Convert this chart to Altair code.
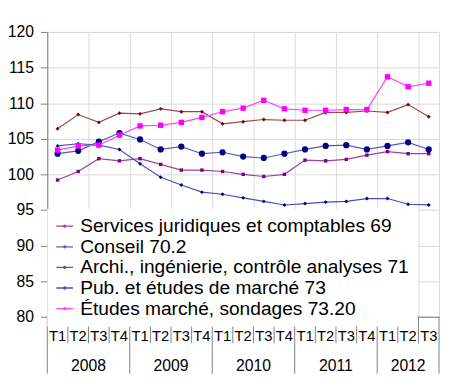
import altair as alt
import pandas as pd

quarters = ["T1", "T2", "T3", "T4"] * 4 + ["T1", "T2", "T3"]
years = ["2008", "2009", "2010", "2011", "2012"]
quarters_per_year = [4, 4, 4, 4, 3]

series_names = [
    "Services juridiques et comptables 69",
    "Conseil 70.2",
    "Archi., ingénierie, contrôle analyses 71",
    "Pub. et études de marché 73",
    "Études marché, sondages 73.20",
]
services = [99.2, 100.4, 102.2, 101.9, 102.2, 101.4, 100.6, 100.6, 100.4, 100.0,
            99.7, 100.0, 102.0, 101.9, 102.1, 102.7, 103.2, 102.9, 102.9]
conseil = [102.9, 103.3, 104.6, 105.8, 104.9, 103.5, 103.9, 102.9, 103.1, 102.5,
           102.3, 102.9, 103.5, 104.0, 104.1, 103.5, 104.0, 104.5, 103.5]
archi = [106.4, 108.4, 107.3, 108.6, 108.5, 109.2, 108.8, 108.8, 107.1, 107.4,
         107.7, 107.6, 107.6, 108.7, 108.7, 108.9, 108.7, 109.8, 108.1]
pub = [104.0, 104.3, 104.1, 103.5, 101.5, 99.6, 98.5, 97.5, 97.2, 96.7,
       96.2, 95.7, 95.9, 96.1, 96.2, 96.6, 96.6, 95.8, 95.7]
etudes = [103.4, 104.0, 104.1, 105.5, 106.8, 106.9, 107.3, 108.0, 108.8, 109.3,
          110.4, 109.2, 109.0, 109.0, 109.1, 109.1, 113.7, 112.3, 112.8]

line_colors = ["#A040A0", "#5A5AC0", "#A04848", "#4C4CC0", "#FF40FF"]
marker_colors = ["#800080", "#000080", "#800000", "#000080", "#FF00FF"]
marker_shapes = ["square", "circle", "diamond", "diamond", "square"]
marker_sizes = [12, 40, 16, 16, 30]

W, H = 399, 290

rows = []
for name, vals in zip(series_names, [services, conseil, archi, pub, etudes]):
    for i, v in enumerate(vals):
        rows.append({"series": name, "pos": i + 0.5, "value": v})
df = pd.DataFrame(rows)

qdf = pd.DataFrame({"pos": [i + 0.5 for i in range(len(quarters))], "label": quarters})

bounds = [0]
for n in quarters_per_year:
    bounds.append(bounds[-1] + n)
ydf = pd.DataFrame({
    "pos": [(bounds[k] + bounds[k + 1]) / 2 for k in range(len(years))],
    "label": years,
})
short_df = pd.DataFrame({"b": [b for b in range(len(quarters) + 1) if b not in bounds]})
long_df = pd.DataFrame({"b": bounds})

xscale = alt.Scale(domain=[0, len(quarters)], nice=False, zero=False)
xaxis = alt.Axis(values=list(range(2, len(quarters), 2)), labels=False, ticks=False,
                 title=None, grid=True, domain=True, domainColor="#808080",
                 gridColor="#D9D9D9")
yscale = alt.Scale(domain=[80, 120], nice=False, zero=False)
yaxis = alt.Axis(values=list(range(80, 121, 5)), title=None, grid=True,
                 gridColor="#D9D9D9", tickSize=7, labelPadding=7, labelOverlap=False,
                 labelFontSize=16, domainColor="#808080", tickColor="#808080",
                 labelColor="#000000")
x = alt.X("pos:Q", scale=xscale, axis=xaxis)
y = alt.Y("value:Q", scale=yscale, axis=yaxis)

legend = alt.Legend(
    title=None, orient="none", legendX=0, legendY=180,
    fillColor="white", padding=8, labelFontSize=19.5, rowPadding=0,
    labelLimit=1000, labelOffset=6,
    symbolType="M-1,0H1M-0.12,0A0.12,0.12 0 1,0 0.12,0A0.12,0.12 0 1,0 -0.12,0",
    symbolSize=289, symbolStrokeWidth=1.3,
    labelColor="#000000",
)

stroke_scale = alt.Scale(domain=series_names, range=line_colors)

lines = alt.Chart(df).mark_line(strokeWidth=1.2).encode(
    x=x, y=y,
    stroke=alt.Stroke("series:N", scale=stroke_scale, legend=legend),
    detail="series:N",
)

point_layers = []
for name, col, shp, sz in zip(series_names, marker_colors, marker_shapes, marker_sizes):
    point_layers.append(
        alt.Chart(df).transform_filter(alt.datum.series == name)
        .mark_point(filled=True, strokeWidth=0, opacity=1, shape=shp, size=sz, color=col)
        .encode(x=x, y=y)
    )

qlabels = alt.Chart(qdf).mark_text(fontSize=15, baseline="middle", color="#000000").encode(
    x=alt.X("pos:Q", scale=xscale), y=alt.value(H + 20), text="label:N")
ylabels = alt.Chart(ydf).mark_text(fontSize=16, baseline="middle", color="#000000").encode(
    x=alt.X("pos:Q", scale=xscale), y=alt.value(H + 50), text="label:N")
short_rules = alt.Chart(short_df).mark_rule(color="#808080", strokeWidth=1).encode(
    x=alt.X("b:Q", scale=xscale), y=alt.value(H), y2=alt.value(H + 27))
long_rules = alt.Chart(long_df).mark_rule(color="#808080", strokeWidth=1).encode(
    x=alt.X("b:Q", scale=xscale), y=alt.value(H), y2=alt.value(H + 58))

chart = alt.layer(lines, *point_layers, short_rules, long_rules, qlabels, ylabels).properties(
    width=W, height=H,
    autosize=alt.AutoSizeParams(type="none"),
    padding={"left": 40, "top": 21, "right": 3, "bottom": 60},
    background="white",
).configure(font="Liberation Sans").configure_view(stroke="#D9D9D9")

chart.save("out.html", embed_options={"renderer": "svg", "actions": False})
